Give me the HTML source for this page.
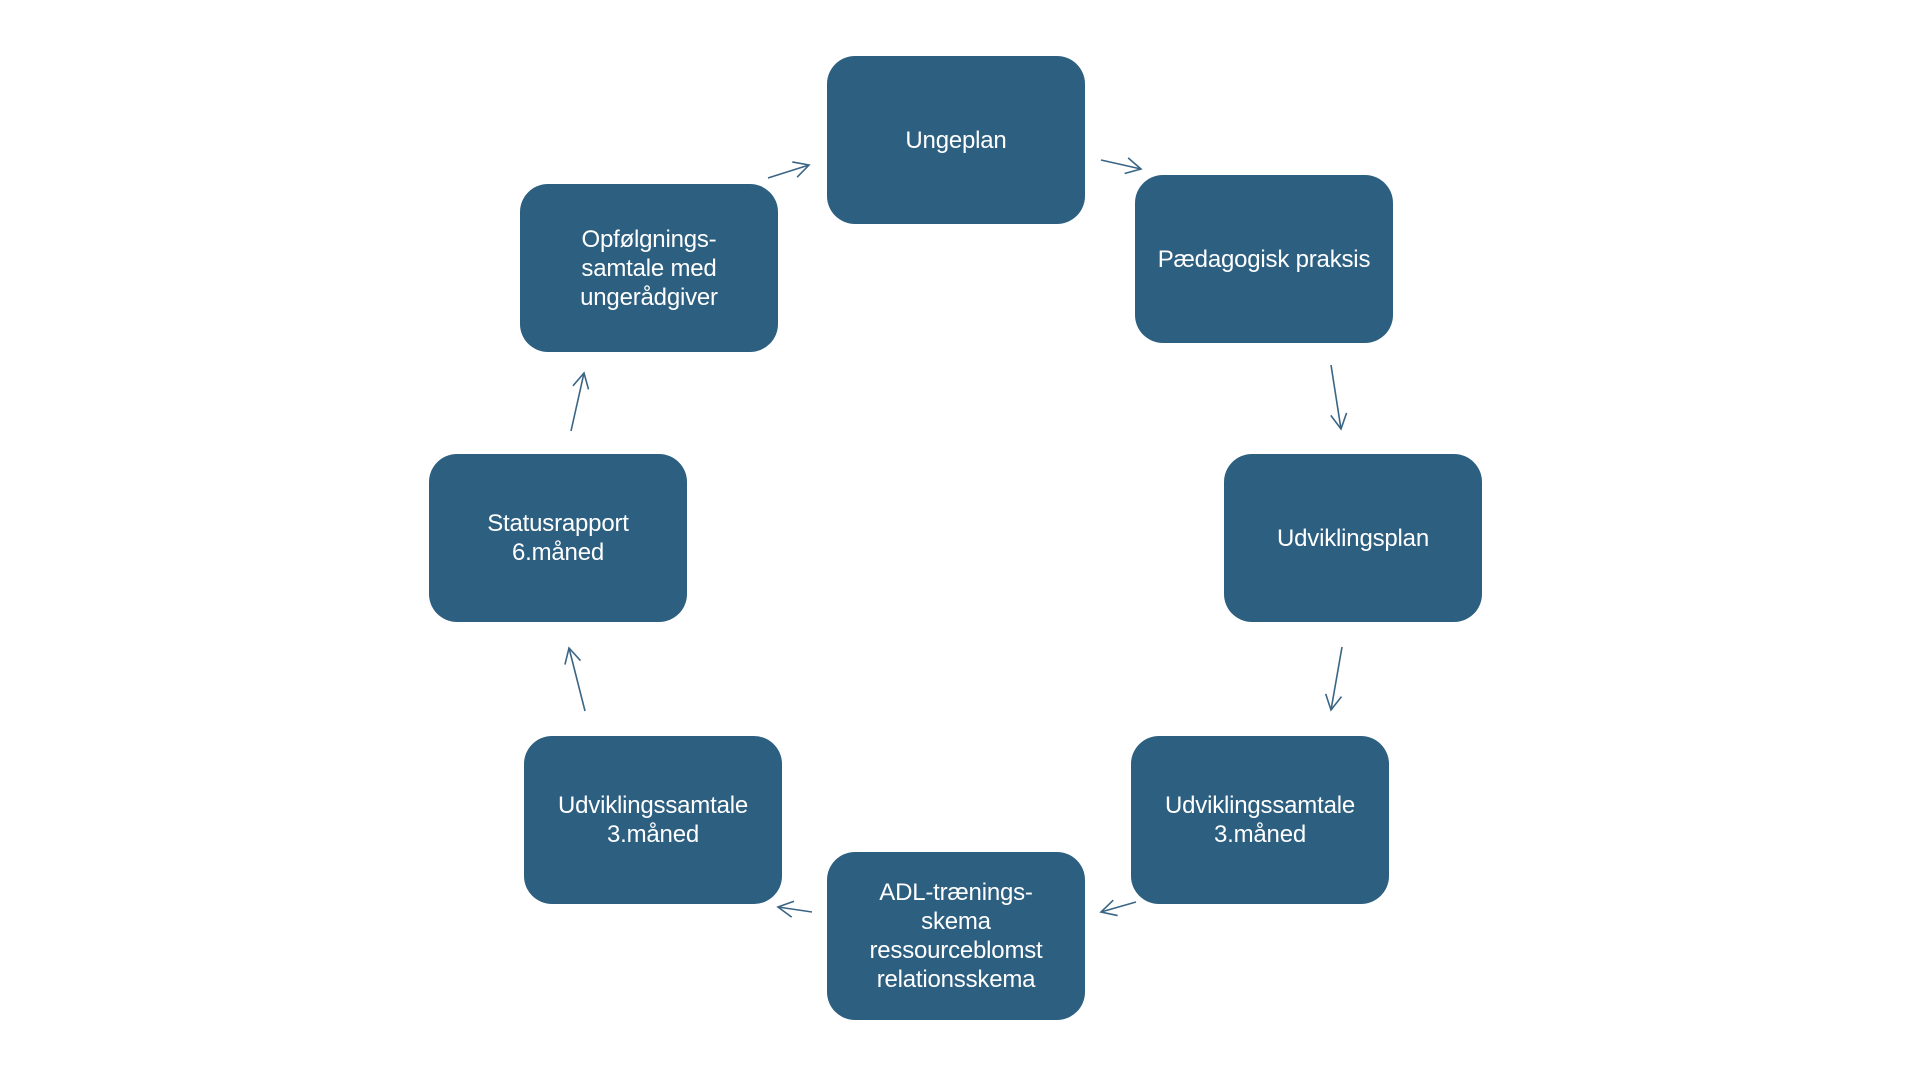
<!DOCTYPE html>
<html><head><meta charset="utf-8"><style>
html,body{margin:0;padding:0;background:#fff;}
body{width:1920px;height:1080px;position:relative;overflow:hidden;font-family:"Liberation Sans",sans-serif;}
.b{position:absolute;width:258px;height:168px;background:#2d5f80;border-radius:28px;color:#fff;display:flex;align-items:center;justify-content:center;text-align:center;font-size:24px;line-height:29px;letter-spacing:-0.2px;}
svg{position:absolute;left:0;top:0;}
</style></head><body>
<div class="b" style="left:827px;top:56px">Ungeplan</div>
<div class="b" style="left:1135px;top:175px">Pædagogisk praksis</div>
<div class="b" style="left:1224px;top:454px">Udviklingsplan</div>
<div class="b" style="left:1131px;top:736px">Udviklingssamtale<br>3.måned</div>
<div class="b" style="left:827px;top:852px">ADL-trænings-<br>skema<br>ressourceblomst<br>relationsskema</div>
<div class="b" style="left:524px;top:736px">Udviklingssamtale<br>3.måned</div>
<div class="b" style="left:429px;top:454px">Statusrapport<br>6.måned</div>
<div class="b" style="left:520px;top:184px">Opfølgnings-<br>samtale med<br>ungerådgiver</div>
<svg width="1920" height="1080">
<defs><marker id="a" markerWidth="20" markerHeight="20" refX="17" refY="10" orient="auto" markerUnits="userSpaceOnUse"><path d="M2,2 L17,10 L2,18" fill="none" stroke="#3a6585" stroke-width="1.6"/></marker></defs>
<g stroke="#3a6585" stroke-width="1.6" fill="none" marker-end="url(#a)">
<line x1="768" y1="178" x2="809" y2="165"/>
<line x1="1101" y1="160" x2="1141" y2="169"/>
<line x1="1331" y1="365" x2="1341" y2="429"/>
<line x1="1342" y1="647" x2="1331" y2="710"/>
<line x1="1136" y1="902" x2="1101" y2="912"/>
<line x1="812" y1="912" x2="778" y2="907"/>
<line x1="585" y1="711" x2="569" y2="648"/>
<line x1="571" y1="431" x2="584" y2="373"/>
</g></svg>
</body></html>
